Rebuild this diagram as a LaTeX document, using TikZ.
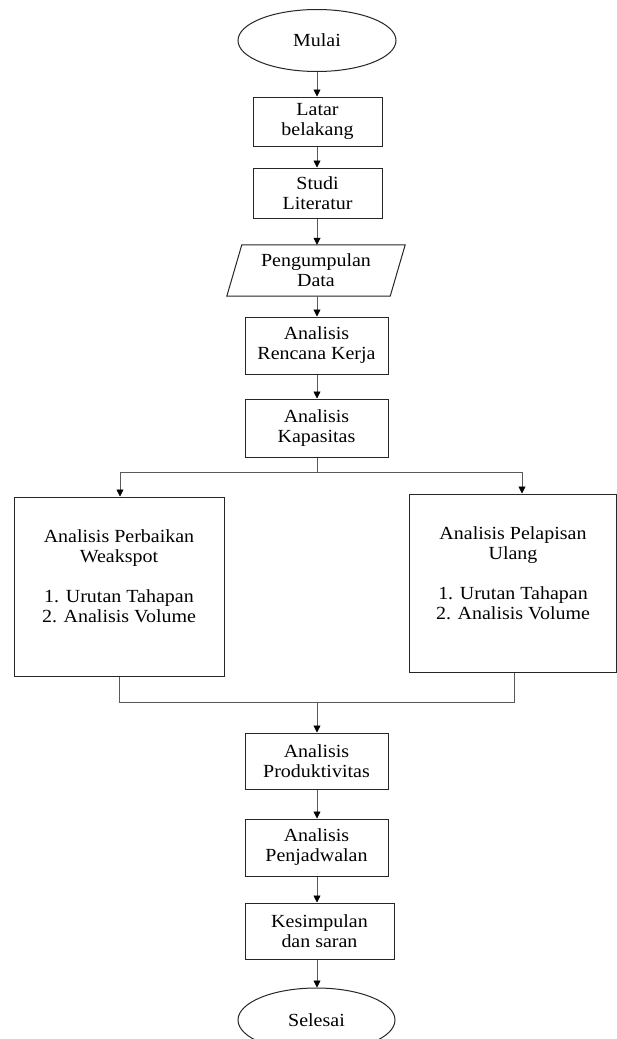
\documentclass[tikz,border=0pt]{standalone}
\usepackage{fontspec}
\setmainfont{Liberation Serif}[FakeStretch=1.08]
\usetikzlibrary{shapes.geometric,arrows.meta,calc}
\begin{document}
\begin{tikzpicture}[x=1pt,y=-1pt,
  every node/.style={font=\fontsize{18.5}{20}\selectfont, text=black, align=center, inner sep=0pt},
  stepbox/.style={draw=black!85, line width=1pt, rectangle, minimum width=143, minimum height=57},
  bigbox/.style={draw=black!85, line width=1pt, rectangle, minimum width=210, minimum height=179},
  term/.style={draw=black!85, line width=1pt, ellipse, minimum width=158, minimum height=62},
  conn/.style={draw=black!65, line width=0.8pt},
  arr/.style={conn, -{Triangle[length=7pt,width=7pt,fill=black,color=black]}}]
\clip (0,0) rectangle (617,1039);
\fill[white] (0,0) rectangle (617,1039);

\node[term] (mulai) at (317,40.5) {Mulai};
\node[stepbox, minimum width=129, minimum height=49] (latar) at (317.5,121.5) {Latar\\belakang};
\node[stepbox, minimum width=129, minimum height=50] (studi) at (317.5,193) {Studi\\Literatur};
\node[minimum width=163, minimum height=51] (data) at (316,270.5) {Pengumpulan\\Data};
\draw[draw=black!85, line width=1pt]
  ($(data.north west)+(7.5,0)$) -- ($(data.north east)+(7.5,0)$) --
  ($(data.south east)+(-7.5,0)$) -- ($(data.south west)+(-7.5,0)$) -- cycle;
\node[stepbox] (rencana) at (316.5,345.5) {Analisis\\Rencana Kerja};
\node[stepbox, minimum height=58] (kapasitas) at (316.5,428) {Analisis\\Kapasitas};
\node[bigbox] (perbaikan) at (119,586.5) {Analisis Perbaikan\\Weakspot\\ \\1. Urutan Tahapan\\2. Analisis Volume\\ \mbox{}};
\node[bigbox, minimum width=207, minimum height=178] (pelapisan) at (513,583) {Analisis Pelapisan\\Ulang\\ \\1. Urutan Tahapan\\2. Analisis Volume\\ \mbox{}};
\node[stepbox, minimum height=56] (produktivitas) at (316.5,761) {Analisis\\Produktivitas};
\node[stepbox] (penjadwalan) at (316.5,847.5) {Analisis\\Penjadwalan};
\node[stepbox, minimum width=149, minimum height=56] (kesimpulan) at (319.5,931) {Kesimpulan\\dan saran};
\node[term, minimum width=157, minimum height=64] (selesai) at (316.5,1020) {Selesai};

\coordinate (split) at (317,472);
\coordinate (splitL) at (120,472);
\coordinate (splitR) at (522,472);
\coordinate (merge) at (317,702);
\coordinate (mergeL) at (119,702);
\coordinate (mergeR) at (514,702);

\draw[arr] (317,0 |- mulai.south) -- (317,0 |- latar.north);
\draw[arr] (317,0 |- latar.south) -- (317,0 |- studi.north);
\draw[arr] (317,0 |- studi.south) -- (317,0 |- data.north);
\draw[arr] (317,0 |- data.south) -- (317,0 |- rencana.north);
\draw[arr] (317,0 |- rencana.south) -- (317,0 |- kapasitas.north);
\draw[conn] (317,0 |- kapasitas.south) -- (split);
\draw[conn] (splitL) -- (splitR);
\draw[arr] (splitL) -- (splitL |- perbaikan.north);
\draw[arr] (splitR) -- (splitR |- pelapisan.north);
\draw[conn] (mergeL |- perbaikan.south) -- (mergeL) -- (mergeR) -- (mergeR |- pelapisan.south);
\draw[arr] (merge) -- (merge |- produktivitas.north);
\draw[arr] (317,0 |- produktivitas.south) -- (317,0 |- penjadwalan.north);
\draw[arr] (317,0 |- penjadwalan.south) -- (317,0 |- kesimpulan.north);
\draw[arr] (317,0 |- kesimpulan.south) -- (317,0 |- selesai.north);
\end{tikzpicture}
\end{document}
